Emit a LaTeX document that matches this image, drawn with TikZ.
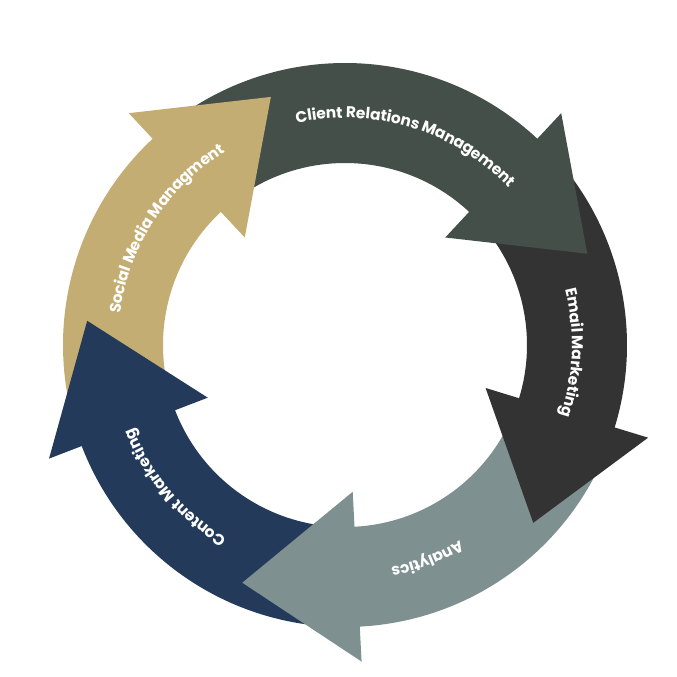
\documentclass[tikz,border=0pt]{standalone}
\usepackage{fontspec}
\setmainfont{Poppins}
\usetikzlibrary{calc,decorations.text}
\definecolor{cClient}{HTML}{434F48}
\definecolor{cEmail}{HTML}{333333}
\definecolor{cAnal}{HTML}{7E9090}
\definecolor{cCont}{HTML}{243A5A}
\definecolor{cSoc}{HTML}{C3AD72}
\tikzset{
  ringtext/.style={decorate,decoration={text along path,text align=center,raise=-5pt,
    text={|\fontsize{15.5}{15.5}\bfseries\color{white}|#1}}}
}
\newcommand{\ringbody}[3]{\fill[#3] (#1-1.5:282) arc[start angle=#1-1.5,end angle=#2-3,radius=282] -- (#2-3:182) arc[start angle=#2-3,end angle=#1-1.5,radius=182] -- cycle;}
\newcommand{\ringhead}[2]{\fill[#2] (#1:147) -- (#1:317) -- ($(#1:232)+(#1-90:115)$) -- cycle;}
\begin{document}
\begin{tikzpicture}[x=1pt,y=1pt]
\useasboundingbox (-345,-332) rectangle (332,345);
\ringbody{133}{47}{cClient}
\ringbody{47}{-17}{cEmail}
\ringbody{-17}{-87}{cAnal}
\ringbody{-87}{-159}{cCont}
\ringbody{201}{133}{cSoc}
\ringhead{47}{cClient}
\ringhead{-17}{cEmail}
\ringhead{-87}{cAnal}
\ringhead{-159}{cCont}
\ringhead{133}{cSoc}
\path[ringtext={Client Relations Management}] (118:232) arc[start angle=118,end angle=28,radius=232];
\path[ringtext={Email Marketing}] (38:232) arc[start angle=38,end angle=-42,radius=232];
\path[ringtext={Analytics}] (-29:232) arc[start angle=-29,end angle=-109,radius=232];
\path[ringtext={Content Marketing}] (-95:232) arc[start angle=-95,end angle=-185,radius=232];
\path[ringtext={Social Media Managment}] (190:232) arc[start angle=190,end angle=104,radius=232];
\end{tikzpicture}
\end{document}
